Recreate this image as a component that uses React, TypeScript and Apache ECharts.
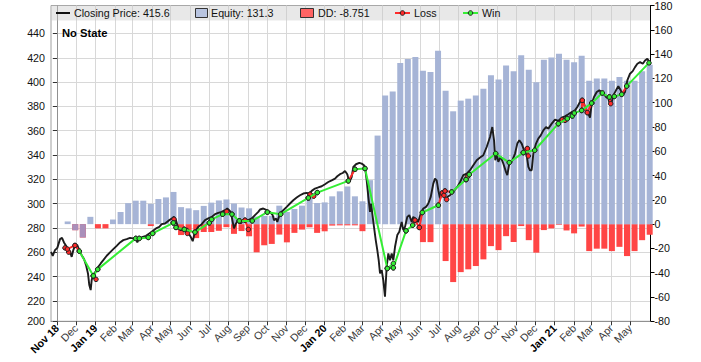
import React, { useEffect, useRef } from 'react';
import * as echarts from 'echarts';

// ---------- data ----------
const monthLabels = ['Nov 18','Dec','Jan 19','Feb','Mar','Apr','May','Jun','Jul','Aug','Sep','Oct','Nov','Dec','Jan 20','Feb','Mar','Apr','May','Jun','Jul','Aug','Sep','Oct','Nov','Dec','Jan 21','Feb','Mar','Apr','May'];
const leftTickValues = [203.2, 220, 240, 260, 280, 300, 320, 340, 360, 380, 400, 420, 440];

// bars every ~12 days (days since 2018-11-01)
const barStartDay = 17;
const barStepDays = 12.03;
const equityValues = [2.2,-5,-11,6,0,0,3.8,10,17.3,19.3,19.3,16.7,20.7,22,26.5,14,13,11.5,15,17.7,19.5,20.3,17,13.7,13,6.2,6.8,6.8,15.2,10,12.5,15.2,21.5,17.4,17.9,22.9,27,31,22.9,18.8,36.2,72.9,105.8,109.1,132.7,136,137.6,126.3,125.3,142.8,109.9,92.9,101.7,103.3,105.8,111.5,122.5,119,130.5,125.8,139,127.2,116.8,135.4,137.2,140.2,135.4,133.2,138.7,118.1,119.8,119.8,118.1,121.1,118.1,118.1,125.8,131.3];
const ddValues = [0,-5,-11,0,-3.5,-3.5,0,0,0,0,0,-1.6,0,0,0,-9,-7,-11.5,-6.5,-6.5,-5.5,-2.5,-8,-5.7,-10,-23.2,-17.4,-16.3,-8.6,-15,-7.2,-4.5,-2.6,-7.2,-5.9,-1.2,-1,-1,-1,-5.8,0,0,0,0,0,0,0,-14.8,-14.8,0,-30.4,-47.7,-39.5,-37.2,-34.5,-29,-18.1,-21.4,-9.9,-14.8,-1.6,-13.2,-23.5,-4.9,-3.5,-0.6,-5.2,-7.6,-2,-22.2,-20.2,-20.2,-22.2,-18.7,-26.3,-22.2,-13.2,-8.751];

// closing price [day since 2018-11-01, price]
const priceSeries = [[-9.5,260.3],[-6.8,257.1],[-3.2,261.7],[0.5,263.6],[4.8,270.8],[8,271.8],[11.1,268.1],[15.4,264.5],[19.6,261.7],[23.4,256.2],[25.9,261.7],[29.1,265.8],[32.3,265.8],[35.5,261.7],[39.3,257.6],[43,254.4],[46.2,249.4],[49.3,242.6],[51.4,233],[53.6,228.9],[55.2,237.1],[57.8,241.8],[62.1,244.5],[65.7,248],[69.6,250.8],[73.7,253.5],[79.1,257.1],[84.4,259.9],[89.6,262.6],[95,265.3],[100.3,268.1],[105.5,270],[110.9,270.8],[116.2,271.8],[121.4,271.4],[125.7,271.8],[127.8,268.1],[131,271.4],[136.4,272.7],[141.7,273.5],[146.9,275.5],[152.3,277.4],[157.6,279.6],[162.8,280.9],[166.6,283.1],[171.9,283.7],[177.1,285.8],[182.6,287.8],[186.2,289.1],[189.4,286.4],[193.1,279.6],[196.9,278.2],[201,278.8],[205.3,276.8],[209,275.5],[212.8,272.7],[216,269.1],[219.6,276.8],[224.9,280.9],[230.3,283.1],[235.6,286.4],[240.8,287.8],[246.2,289.1],[251.5,291.3],[256.7,292.4],[262.1,293.2],[267.4,294.6],[271,296],[275.3,294],[278.1,289.1],[281.7,279.6],[284.9,283.7],[288.6,286.4],[292.4,283.7],[296.5,286.4],[300.8,287],[304.5,286.4],[309.9,287.8],[315.1,290.5],[320.4,293.2],[323.1,295.2],[328.3,296],[333.8,294.6],[339,293.2],[343.3,290.5],[345.4,286.4],[348.6,287.8],[350.6,285],[354.9,291.9],[360.2,294.6],[365.6,297.3],[370.8,300.1],[376.1,302.8],[381.5,305],[386.8,306.9],[392,308.3],[397.4,308.8],[401.6,308.3],[405.4,310.5],[410.6,312.4],[415.9,313.3],[421.3,314.3],[426.5,316],[431.8,317.8],[437.2,319.2],[442.5,320.6],[446.1,322.5],[450.4,324.2],[454.7,325.2],[458.4,326.9],[462,324.2],[465.2,317.8],[469,321.9],[471.6,330.2],[475.9,332.4],[481.1,333.5],[485,332.9],[488.6,331.6],[490.2,330.2],[492.9,319.2],[495.5,305.5],[498.2,293.2],[499.8,300.1],[502.5,289.1],[504.5,280.9],[507.3,270],[509.8,261.7],[512,253.5],[514.1,242.6],[516.8,245.3],[519.3,237.1],[522,223.4],[524.7,248],[527.3,259],[530,253.5],[532.7,259],[535.3,253.5],[538,264.5],[541.6,274.1],[544.8,276.8],[548.6,285],[551.2,278.2],[553.9,280.9],[557.5,289.1],[560.7,290.5],[564.5,285],[567.1,289.1],[571.4,286.4],[575,285],[578.9,291.9],[583,296],[587.3,297.3],[591,300.1],[594.8,305.5],[598.9,316.5],[601.6,320.6],[604.3,319.2],[606.9,311],[609.6,304.2],[612.3,308.3],[615.9,309.6],[619.1,302.8],[621.2,305.5],[625.5,306.9],[629.8,309.6],[633.5,311.6],[637.1,313.7],[641.4,317.6],[646.7,323.4],[652.1,324.7],[657.4,327.5],[662.6,331.6],[668,335.7],[673.3,337.9],[678.5,339.8],[683.9,346.6],[689.2,354.8],[692.8,363],[695.6,352.1],[697.6,335.7],[699.8,341.2],[702.4,334.3],[706.2,338.4],[710.3,333],[714.6,326.1],[716.7,323.4],[719.9,333],[723.7,334.3],[729,341.2],[732.6,349.4],[735.8,352.1],[739.6,349.4],[743.3,343.9],[747.6,339.8],[750.2,330.2],[752.8,327.5],[755.5,327.5],[758.1,341.2],[762.4,349.4],[766,353.5],[769.9,356.2],[774,360.3],[778.3,363],[782,361.7],[787.4,365.8],[792.6,369.1],[797.9,368],[803.3,370.7],[808.5,371.8],[813.8,373.5],[819.2,375.3],[824.4,376.7],[828.1,379.5],[832.4,383.6],[835.1,385.5],[837.6,385],[840.4,379.5],[843.1,375.3],[845.6,374],[848.3,370.7],[851,382.2],[854.7,387.7],[859,391.8],[863.1,393.2],[867,391.8],[869.5,391],[873.8,387.7],[877.5,386.4],[880.2,380.9],[882.9,383.6],[885.4,389.1],[889.7,393.2],[893.4,396.5],[897.2,393.2],[900.4,389.6],[904,391.8],[907.7,401.4],[912,406.9],[916.3,409],[920,412.3],[923.7,415.1],[928,416.4],[932.3,415.1],[935.9,417.8],[939.6,419.2],[943.9,415.6]];

// trades: [entryDay, entryPrice, exitDay, exitPrice, win(1)/loss(0)]
const trades = [[12.7,263.6,18.6,260.1,0],[16.4,262.6,28.6,265.6,0],[28.6,265.6,35.5,260.9,0],[35.5,260.9,57.8,240.6,1],[57.8,240.6,62.1,237.7,0],[57.8,240.6,64.8,245.9,1],[64.8,245.9,125.3,271.4,1],[125.3,271.4,131,271.4,1],[131,271.4,145.3,272.2,1],[145.3,272.2,152.3,275.5,1],[152.3,275.5,185.1,284.2,1],[185.1,284.2,186.2,287.2,0],[185.1,284.2,189.4,280.4,1],[189.4,280.4,202.6,278.8,1],[202.6,278.8,206.4,277.9,0],[206.4,277.9,207.4,275.5,0],[202.6,278.8,219.6,276.5,1],[219.6,276.5,242.4,284.2,1],[242.4,284.2,246.2,287,1],[246.2,287,263.7,291.3,1],[263.7,291.3,270.1,293.5,0],[263.7,291.3,278.5,291.3,1],[278.5,291.3,290.1,285.8,1],[290.1,285.8,299.2,286.4,0],[299.2,286.4,304.5,278.8,0],[290.1,285.8,310.8,285.8,1],[310.8,285.8,334.7,293,1],[334.7,293,356,291.3,1],[356,291.3,400,304.7,1],[400,304.7,402.7,307.7,0],[402.7,307.7,408.6,306.1,0],[400,304.7,414.3,309.1,1],[414.3,309.1,463.6,318.7,1],[463.6,318.7,474.3,328.3,0],[474.3,328.3,490.2,328.9,1],[490.2,328.9,525.7,246.7,1],[525.7,246.7,535.3,250.8,1],[525.7,246.7,535.3,247.2,1],[535.3,247.2,555.5,277.6,1],[555.5,277.6,566.1,282.3,1],[566.1,282.3,569.8,286.4,0],[569.8,286.4,576.6,280.4,0],[576.6,280.4,581.4,292.7,0],[581.4,292.7,606.9,298.7,1],[606.9,298.7,613.2,308.8,0],[613.2,308.8,617.5,310.4,0],[615.9,306.9,620.2,303.4,0],[617.5,310.4,628.2,309.6,0],[628.2,309.6,651,319.8,1],[651,319.8,653,322,0],[651,319.8,656.2,323.9,1],[656.2,323.9,698.2,341.2,1],[698.2,341.2,719.9,333.8,1],[719.9,333.8,742.2,342,1],[742.2,342,748.5,345.3,0],[748.5,345.3,750.1,339.2,0],[742.2,342,760.3,343.9,1],[760.3,343.9,797.9,365.8,1],[797.9,365.8,804.2,369.1,0],[804.2,369.1,808.5,368.5,0],[797.9,365.8,812.2,369.9,1],[812.2,369.9,820.1,372.1,1],[820.1,372.1,823.3,374.5,1],[823.3,374.5,835.1,376.7,1],[835.1,376.7,836,385,0],[836,385,844,374.9,0],[844,374.9,851,382.7,0],[835.1,376.7,851,382.7,1],[851,382.7,867.9,391,1],[867.9,391,879,387.7,1],[879,387.7,881.3,382.2,0],[879,387.7,887,388.2,1],[887,388.2,898.8,389.9,1],[898.8,389.9,906.7,396.7,0],[906.7,396.7,942.2,415.8,1]];

// ---------- helpers ----------
const DAY = 86400000;
const origin = Date.UTC(2018, 10, 1);
const monthDays = monthLabels.map((_, k) => (Date.UTC(2018, 10 + k, 1) - origin) / DAY);

const FONT = 'Liberation Sans, Arial, sans-serif';
const FS = 10.7;
const EQ_COLOR = '#a6b4d6';
const EQ_NEG_COLOR = '#a98fba';
const DD_COLOR = '#ff4545';
const WIN_COLOR = '#35ee35';
const LOSS_COLOR = '#ff2a2a';

function tradeData(win: number) {
  const out: any[] = [];
  trades.forEach((t) => {
    if (t[4] === win) {
      out.push([t[0], t[1]], [t[2], t[3]], [t[2], '-']);
    }
  });
  return out;
}

export default function App() {
  const ref = useRef<HTMLDivElement>(null);
  useEffect(() => {
    if (!ref.current) return;
    const chart = echarts.init(ref.current, null, { renderer: 'svg' });
    const eqData = equityValues.map((v, i) => [barStartDay + barStepDays * i, v]);
    const ddData = ddValues.map((v, i) => [barStartDay + barStepDays * i, v]);
    const lastPrice = priceSeries[priceSeries.length - 1][1];
    const lastEq = equityValues[equityValues.length - 1];
    const lastDD = ddValues[ddValues.length - 1];
    const ly = 13;
    const txt = (x: number, s: string, bold = false) => ({
      type: 'text', x, y: ly, z: 100,
      style: { text: s, fill: '#111', font: `${bold ? 'bold ' : ''}${FS}px ${FONT}`, verticalAlign: 'middle', align: 'left' },
    });
    const option: any = {
      animation: false,
      backgroundColor: '#fff',
      grid: { left: 51, right: 50.5, top: 5, bottom: 40.7, show: true, borderColor: '#a0a0a0', borderWidth: 1, backgroundColor: 'transparent' },
      xAxis: {
        type: 'value', min: -9.55, max: 944.6,
        axisLine: { show: true, onZero: false, lineStyle: { color: '#909090' } },
        axisTick: { show: true, customValues: monthDays, length: 4, lineStyle: { color: '#333' } },
        axisLabel: {
          customValues: monthDays, rotate: 45, margin: 5, fontSize: FS, fontFamily: FONT, color: '#3a3a3a',
          formatter: (v: number) => {
            let idx = 0; let best = 1e9;
            monthDays.forEach((d, i) => { const dd = Math.abs(d - v); if (dd < best) { best = dd; idx = i; } });
            const lab = monthLabels[idx];
            return lab.indexOf(' ') >= 0 ? `{b|${lab}}` : lab;
          },
          rich: { b: { fontWeight: 'bold', color: '#000', fontSize: FS, fontFamily: FONT } },
        },
        splitLine: { show: true, lineStyle: { color: '#d8d8d8', width: 1 } },
      },
      yAxis: [
        {
          type: 'value', position: 'left', min: 203.2, max: 463,
          axisLine: { show: true, lineStyle: { color: '#909090' } },
          axisTick: { show: true, customValues: leftTickValues, length: 4, lineStyle: { color: '#333' } },
          axisLabel: {
            customValues: leftTickValues, margin: 6, fontSize: FS, fontFamily: FONT, color: '#111',
            formatter: (v: number) => (v < 210 ? '200' : String(Math.round(v))),
          },
          splitLine: { show: true, lineStyle: { color: '#d8d8d8', width: 1 } },
        },
        {
          type: 'value', position: 'right', min: -80, max: 180, interval: 20,
          axisLine: { show: true, lineStyle: { color: '#000', width: 1 } },
          axisTick: { show: true, length: 4, lineStyle: { color: '#000' } },
          axisLabel: { margin: 4, fontSize: FS, fontFamily: FONT, color: '#111' },
          splitLine: { show: false },
        },
      ],
      series: [
        {
          name: 'DD', type: 'bar', yAxisIndex: 1, data: ddData, barWidth: 6, barGap: '-100%', z: 2,
          itemStyle: { color: DD_COLOR },
        },
        {
          name: 'Equity', type: 'bar', yAxisIndex: 1, data: eqData, barWidth: 6, barGap: '-100%', z: 2,
          itemStyle: { color: (p: any) => (p.value[1] < 0 ? EQ_NEG_COLOR : EQ_COLOR) },
        },
        {
          name: 'Closing Price', type: 'line', yAxisIndex: 0, data: priceSeries, showSymbol: false, z: 3,
          lineStyle: { color: '#1c1c1c', width: 1.9 }, itemStyle: { color: '#1c1c1c' },
        },
        {
          name: 'Loss', type: 'line', yAxisIndex: 0, data: tradeData(0), z: 4, connectNulls: false,
          symbol: 'circle', symbolSize: 4.5, showSymbol: true, showAllSymbol: true,
          lineStyle: { color: LOSS_COLOR, width: 2 },
          itemStyle: { color: LOSS_COLOR, borderColor: '#222', borderWidth: 1 },
        },
        {
          name: 'Win', type: 'line', yAxisIndex: 0, data: tradeData(1), z: 5, connectNulls: false,
          symbol: 'circle', symbolSize: 4.5, showSymbol: true, showAllSymbol: true,
          lineStyle: { color: WIN_COLOR, width: 2 },
          itemStyle: { color: WIN_COLOR, borderColor: '#222', borderWidth: 1 },
        },
      ],
      graphic: [
        { type: 'rect', z: 90, shape: { x: 51.5, y: 5.5, width: 598.5, height: 15 }, style: { fill: 'rgba(200,200,200,0.42)' } },
        { type: 'line', z: 100, shape: { x1: 56, y1: ly, x2: 70, y2: ly }, style: { stroke: '#111', lineWidth: 2 } },
        txt(74, `Closing Price: ${lastPrice}`),
        { type: 'rect', z: 100, shape: { x: 195.5, y: 8.5, width: 12, height: 9 }, style: { fill: '#b8c4e0', stroke: '#333', lineWidth: 1 } },
        txt(211, `Equity: ${lastEq}`),
        { type: 'rect', z: 100, shape: { x: 300.5, y: 8.5, width: 13, height: 9 }, style: { fill: '#ff6464', stroke: '#333', lineWidth: 1 } },
        txt(318, `DD: ${lastDD}`),
        { type: 'line', z: 100, shape: { x1: 395, y1: ly, x2: 410, y2: ly }, style: { stroke: LOSS_COLOR, lineWidth: 2 } },
        { type: 'circle', z: 101, shape: { cx: 402.5, cy: ly, r: 2.3 }, style: { fill: LOSS_COLOR, stroke: '#222', lineWidth: 1 } },
        txt(414, 'Loss'),
        { type: 'line', z: 100, shape: { x1: 463, y1: ly, x2: 478, y2: ly }, style: { stroke: WIN_COLOR, lineWidth: 2 } },
        { type: 'circle', z: 101, shape: { cx: 470.5, cy: ly, r: 2.3 }, style: { fill: WIN_COLOR, stroke: '#222', lineWidth: 1 } },
        txt(482, 'Win'),
        { type: 'text', x: 62, y: 33, z: 100, style: { text: 'No State', fill: '#000', font: `bold ${FS + 0.5}px ${FONT}`, verticalAlign: 'middle', align: 'left' } },
      ],
    };
    chart.setOption(option);
    return () => chart.dispose();
  }, []);
  return <div ref={ref} style={{ position: 'fixed', left: 0, top: 0, width: 701, height: 362, background: '#fff' }} />;
}
